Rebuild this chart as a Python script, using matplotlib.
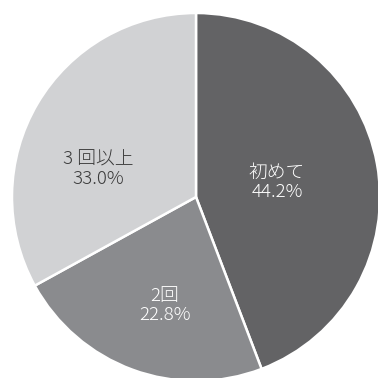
import matplotlib.pyplot as plt

plt.rcParams['font.family'] = ['Noto Sans CJK JP', 'DejaVu Sans']

labels = ['初めて', '2回', '3 回以上']
values = [44.2, 22.8, 33.0]
colors = ['#636365', '#8a8b8e', '#d1d2d4']
text_colors = ['white', 'white', '#3a3a3a']
# label positions (fraction of radius) hand-tuned to the reference
label_pos = [(0.44, 0.08), (-0.17, -0.59), (-0.53, 0.15)]

fig = plt.figure(figsize=(3.78, 3.78), dpi=100)
ax = fig.add_axes([12 / 378, -3 / 378, 368 / 378, 368 / 378])

ax.pie(values, colors=colors, startangle=90, counterclock=False,
       wedgeprops=dict(edgecolor='white', linewidth=1.8))

for lab, v, c, (x, y) in zip(labels, values, text_colors, label_pos):
    ax.text(x, y, f'{lab}\n{v:.1f}%', ha='center', va='center',
            color=c, fontsize=13.5, linespacing=1.1, fontweight='light')

ax.set_xlim(-1, 1)
ax.set_ylim(-1, 1)
ax.set_aspect('equal')
ax.axis('off')

fig.savefig('out.png', dpi=100)
